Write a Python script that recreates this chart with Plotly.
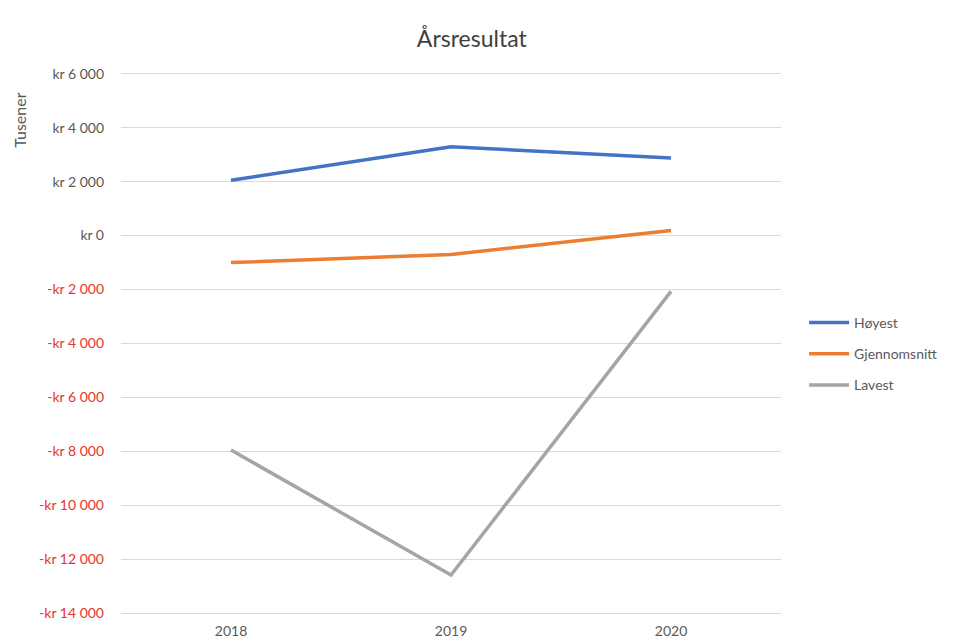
import plotly.graph_objects as go

years = ["2018", "2019", "2020"]
hoyest = [2050, 3290, 2880]
gjennomsnitt = [-1000, -700, 190]
lavest = [-7950, -12580, -2070]

tick_vals = [6000, 4000, 2000, 0, -2000, -4000, -6000, -8000, -10000, -12000, -14000]

def fmt(v):
    s = f"{abs(v):,}".replace(",", " ")
    if v < 0:
        return f"<span style='color:#e8352b'>-kr {s}</span>"
    return f"kr {s}"

tick_text = [fmt(v) for v in tick_vals]

FONT = "Lato, Open Sans, sans-serif"

fig = go.Figure()
fig.add_trace(go.Scatter(x=years, y=hoyest, name="Høyest", mode="lines", legendgroup="a",
                         line=dict(color="#4472c4", width=3.5)))
fig.add_trace(go.Scatter(x=years, y=gjennomsnitt, name="Gjennomsnitt", mode="lines", legendgroup="b",
                         line=dict(color="#ed7d31", width=3.5)))
fig.add_trace(go.Scatter(x=years, y=lavest, name="Lavest", mode="lines", legendgroup="c",
                         line=dict(color="#a5a5a5", width=3.5)))

fig.update_layout(
    width=955, height=641,
    margin=dict(l=121, r=172, t=71, b=25),
    paper_bgcolor="white", plot_bgcolor="white",
    font=dict(family=FONT, color="#595959", size=14),
    title=dict(text="Årsresultat", x=0.494, xanchor="center", y=0.94, yanchor="middle",
               font=dict(size=23, color="#404040", family=FONT)),
    showlegend=True,
    legend=dict(x=1.035, y=0.567, xanchor="left", yanchor="top",
                font=dict(size=14, color="#595959"), tracegroupgap=10,
                itemwidth=40, bgcolor="rgba(0,0,0,0)"),
    xaxis=dict(type="category", range=[-0.5, 2.5], showgrid=False, zeroline=False,
               showline=False, ticks="", ticklabelstandoff=5, automargin=False,
               tickfont=dict(size=14, color="#595959")),
    yaxis=dict(range=[-14100, 6100], tickvals=tick_vals, ticktext=tick_text,
               showgrid=True, gridcolor="#d9d9d9", gridwidth=1, zeroline=False,
               showline=False, ticks="", ticklabelstandoff=16, automargin=False,
               tickfont=dict(size=14, color="#595959")),
)

fig.add_annotation(text="Tusener", xref="paper", yref="paper", x=-0.155, y=0.91,
                   xanchor="center", yanchor="middle", textangle=-90, showarrow=False,
                   font=dict(size=16, color="#595959", family=FONT))

fig.write_html("out.html")
